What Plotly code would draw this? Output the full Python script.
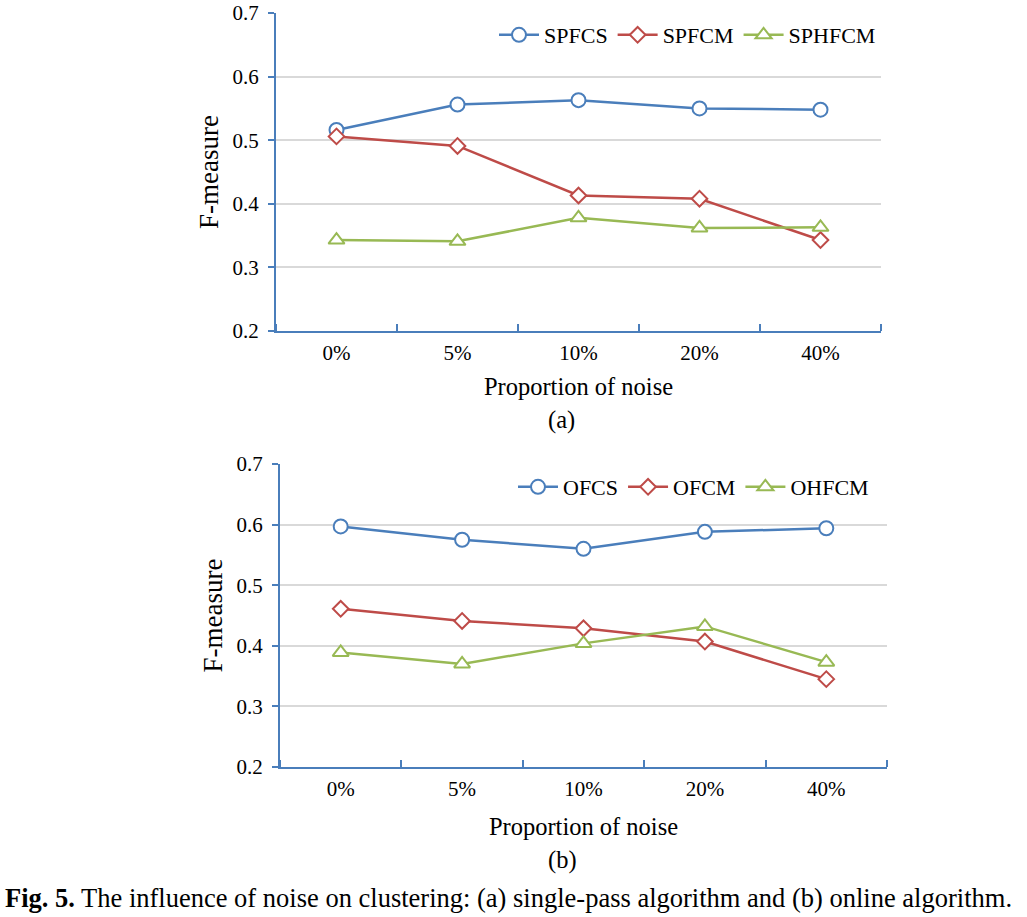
import plotly.graph_objects as go

categories = ["0%", "5%", "10%", "20%", "40%"]

# (a) single-pass algorithms
spfcs = [0.516, 0.556, 0.563, 0.550, 0.548]
spfcm = [0.506, 0.491, 0.413, 0.408, 0.343]
sphfcm = [0.343, 0.341, 0.378, 0.362, 0.363]

# (b) online algorithms
ofcs = [0.597, 0.575, 0.560, 0.588, 0.594]
ofcm = [0.461, 0.441, 0.429, 0.407, 0.345]
ohfcm = [0.389, 0.370, 0.404, 0.432, 0.373]

y_ticks = [0.2, 0.3, 0.4, 0.5, 0.6, 0.7]

BLUE = "#4A7EBB"
RED = "#BE4B48"
GREEN = "#98B954"
AXIS = "#4A7EBB"
GRID = "#D9D9D9"
FONT = "Liberation Serif"

W, H = 1027, 917


def px(x):
    return x / W


def py(y):
    return 1 - y / H


xi = list(range(len(categories)))

fig = go.Figure()


def add_series(name, vals, color, symbol, size, xa, ya, legend):
    fig.add_trace(go.Scatter(
        x=xi, y=vals, name=name, mode="lines+markers",
        line=dict(color=color, width=2.5),
        marker=dict(symbol=symbol, size=size, color="white",
                    line=dict(color=color, width=2)),
        xaxis=xa, yaxis=ya, legend=legend,
    ))


add_series("SPFCS", spfcs, BLUE, "circle", 14, "x", "y", "legend")
add_series("SPFCM", spfcm, RED, "diamond", 12, "x", "y", "legend")
add_series("SPHFCM", sphfcm, GREEN, "triangle-up", 14, "x", "y", "legend")
add_series("OFCS", ofcs, BLUE, "circle", 14, "x2", "y2", "legend2")
add_series("OFCM", ofcm, RED, "diamond", 12, "x2", "y2", "legend2")
add_series("OHFCM", ohfcm, GREEN, "triangle-up", 14, "x2", "y2", "legend2")


def xaxis_cfg(domain, anchor, standoff):
    return dict(
        domain=domain, anchor=anchor, range=[-0.5, len(categories) - 0.5],
        automargin=False,
        tickmode="array", tickvals=xi, ticktext=categories, ticks="",
        ticklabelstandoff=2,
        showline=True, linecolor=AXIS, linewidth=2, showgrid=False, zeroline=False,
        tickfont=dict(family=FONT, size=21, color="black"),
        minor=dict(tickmode="array",
                   tickvals=[i + 0.5 for i in range(-1, len(categories))],
                   ticks="inside", ticklen=7, tickcolor=AXIS, tickwidth=1.5,
                   showgrid=False),
        title=dict(text="Proportion of noise", standoff=standoff,
                   font=dict(family=FONT, size=24.5, color="black")),
    )


def yaxis_cfg(domain, anchor):
    return dict(
        domain=domain, anchor=anchor, range=[0.2, 0.7],
        automargin=False,
        tickmode="array", tickvals=y_ticks, ticktext=[f"{v:.1f}" for v in y_ticks],
        ticks="outside", ticklen=6, tickcolor=AXIS, tickwidth=1.5,
        ticklabelstandoff=5,
        showline=True, linecolor=AXIS, linewidth=2,
        showgrid=True, gridcolor=GRID, gridwidth=1.5, zeroline=False,
        tickfont=dict(family=FONT, size=21, color="black"),
        title=dict(text="F-measure", standoff=6,
                   font=dict(family=FONT, size=27, color="black")),
    )


legend_common = dict(orientation="h", bgcolor="rgba(0,0,0,0)",
                     font=dict(family=FONT, size=22, color="black"),
                     xanchor="right", yanchor="middle", itemwidth=40)

fig.update_layout(
    width=W, height=H,
    margin=dict(l=0, r=0, t=0, b=0),
    paper_bgcolor="white", plot_bgcolor="white",
    xaxis=xaxis_cfg([px(276), px(881)], "y", 14),
    yaxis=yaxis_cfg([py(331), py(13)], "x"),
    xaxis2=xaxis_cfg([px(280), px(887)], "y2", 18),
    yaxis2=yaxis_cfg([py(767), py(464)], "x2"),
    legend=dict(x=px(881), y=py(35), **legend_common),
    legend2=dict(x=px(874), y=py(487), **legend_common),
    annotations=[
        dict(text="(a)", x=px(561), y=py(420), xref="paper", yref="paper",
             xanchor="center", yanchor="middle",
             showarrow=False, font=dict(family=FONT, size=24.5, color="black")),
        dict(text="(b)", x=px(562), y=py(860), xref="paper", yref="paper",
             xanchor="center", yanchor="middle",
             showarrow=False, font=dict(family=FONT, size=24.5, color="black")),
        dict(text="<b>Fig. 5.</b> The influence of noise on clustering: (a) single-pass algorithm and (b) online algorithm.",
             x=px(508), y=py(898), xref="paper", yref="paper",
             xanchor="center", yanchor="middle",
             showarrow=False, font=dict(family=FONT, size=26.5, color="black")),
    ],
)

# remove the default 8px page margin so the figure fills the window exactly
fig.write_html("out.html",
               config={"displayModeBar": False},
               post_script="document.body.style.margin='0';document.body.style.overflow='hidden';")
